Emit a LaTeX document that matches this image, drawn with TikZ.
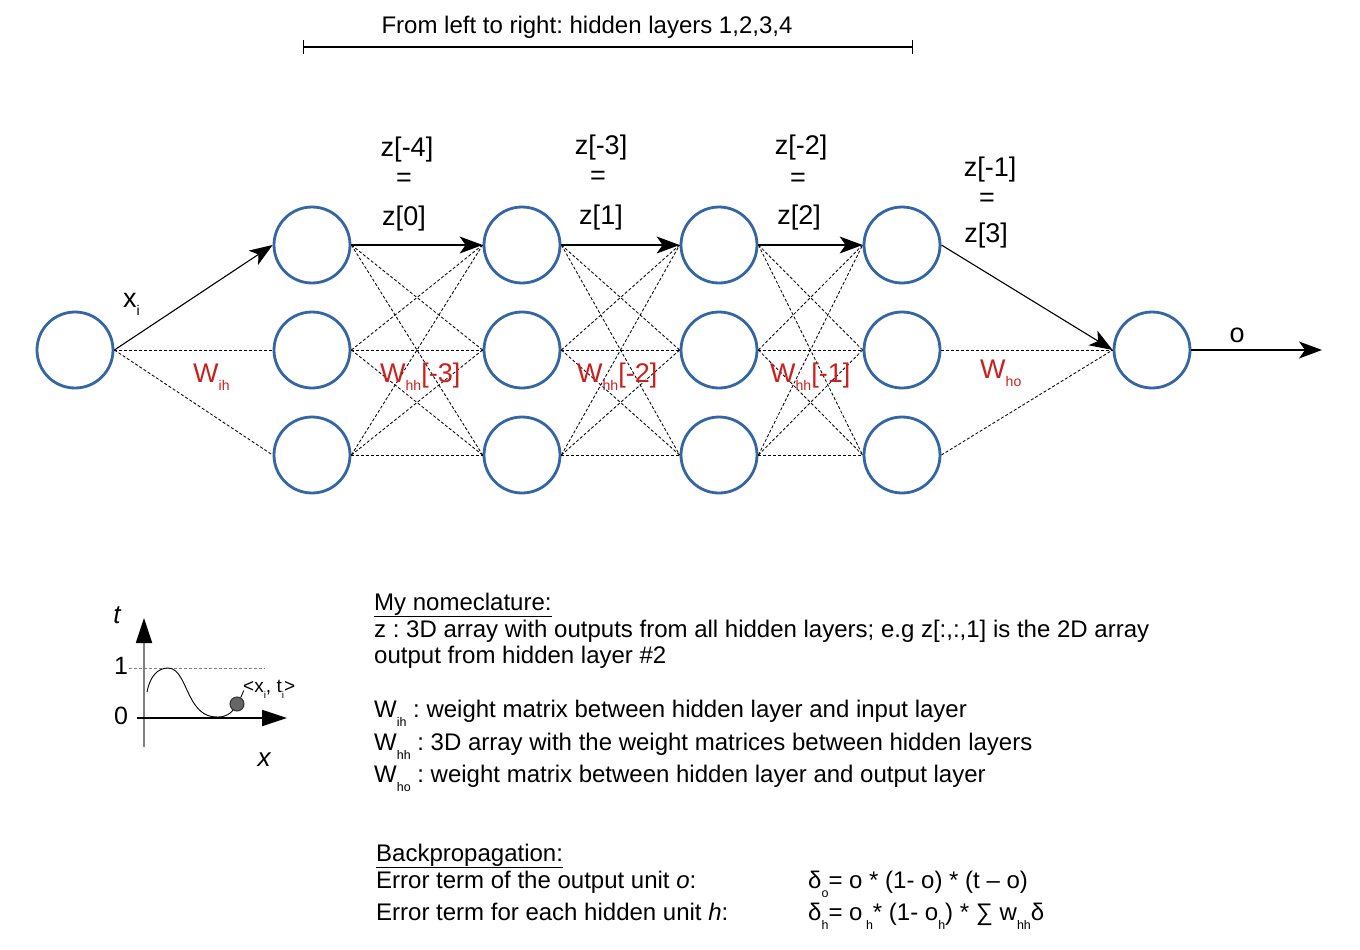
\documentclass[tikz,border=0pt]{standalone}
\usepackage{fontspec}
\setmainfont{Liberation Sans}
\usetikzlibrary{arrows.meta}
\definecolor{nblue}{HTML}{3465A4}
\definecolor{nred}{HTML}{C9211E}
\definecolor{axisgray}{HTML}{808080}
\definecolor{ballfill}{HTML}{666666}
\newcommand{\lsub}[2][0.32em]{\raisebox{-#1}{\scalebox{0.52}{#2}}}
\frenchspacing
\begin{document}
\begin{tikzpicture}[x=1pt,y=-1pt,
  neuron/.style={circle, draw=nblue, line width=2.8pt, minimum size=76pt, inner sep=0pt},
  wdash/.style={line width=0.85pt, dash pattern=on 3pt off 2pt},
  warrow/.style={line width=1.1pt, -{Stealth[length=23pt,width=17pt,inset=6pt]}},
  lbl/.style={font=\fontsize{27}{30}\selectfont, inner sep=0pt},
  redlbl/.style={lbl, text=nred, anchor=base west},
  txt/.style={anchor=base west, inner sep=0pt, font=\fontsize{24}{28}\selectfont},
  axisarrow/.style={line width=1.8pt, -{Triangle[length=25pt,width=16pt,color=black]}}
]
\useasboundingbox[fill=white] (0,0) rectangle (1360,950);

% title and bar
\node[txt, anchor=base] (title) at (587,34) {From left to right: hidden layers 1,2,3,4};
\coordinate (bl) at (303,47);
\coordinate (br) at (913,47);
\draw[line width=1.1pt, {Bar[width=14pt]}-{Bar[width=14pt]}] (bl) -- (br);

% neurons
\node[neuron] (in) at (75,350) {};
\foreach \c/\x in {1/312,2/522,3/719,4/902} {
  \node[neuron] (h\c1) at (\x,245) {};
  \node[neuron] (h\c2) at (\x,350) {};
  \node[neuron] (h\c3) at (\x,455) {};
}
\node[neuron] (out) at (1152,350) {};
\coordinate (oend) at (1322,350);

% input -> layer 1
\draw[warrow] (in.east) -- (h11.west);
\draw[wdash] (in.east) -- (h12.west);
\draw[wdash] (in.east) -- (h13.west);

% hidden -> hidden
\foreach \a/\b in {1/2,2/3,3/4} {
  \foreach \i in {1,2,3} {
    \foreach \j in {1,2,3} {
      \ifnum\i\j=11\relax\else
        \draw[wdash] (h\a\i.east) -- (h\b\j.west);
      \fi
    }
  }
  \draw[warrow] (h\a1.east) -- (h\b1.west);
}

% layer 4 -> output
\draw[warrow] (h41.east) -- (out.west);
\draw[wdash] (h42.east) -- (out.west);
\draw[wdash] (h43.east) -- (out.west);
\draw[warrow] (out.east) -- (oend);

% network labels
\node[lbl, anchor=base west] (xi) at (123,307) {x\lsub{i}};
\node[lbl, anchor=base] (olbl) at (1237,342) {o};

\node[lbl] (z4a) at (407,150) {z[-4]};
\node[lbl] (z4b) at (404,180) {=};
\node[lbl] (z4c) at (404,219) {z[0]};
\node[lbl] (z3a) at (601,148) {z[-3]};
\node[lbl] (z3b) at (598,178) {=};
\node[lbl] (z3c) at (601,218) {z[1]};
\node[lbl] (z2a) at (801,148) {z[-2]};
\node[lbl] (z2b) at (798,180) {=};
\node[lbl] (z2c) at (799,218) {z[2]};
\node[lbl] (z1a) at (990,170) {z[-1]};
\node[lbl] (z1b) at (987,200) {=};
\node[lbl] (z1c) at (986,236) {z[3]};

\node[redlbl] (wih) at (193,382) {W\lsub{ih}};
\node[redlbl] (whh3) at (380,382) {W\lsub{hh}[-3]};
\node[redlbl] (whh2) at (577,382) {W\lsub{hh}[-2]};
\node[redlbl] (whh1) at (770,382) {W\lsub{hh}[-1]};
\node[redlbl] (who) at (980,378) {W\lsub{ho}};

% inset graph
\coordinate (ya0) at (144,747);
\coordinate (ya1) at (144,618);
\coordinate (xa0) at (137,718);
\coordinate (xa1) at (287,718);
\coordinate (d0) at (129,668);
\coordinate (d1) at (265,668);
\draw[axisgray, line width=1pt, dash pattern=on 3pt off 2pt] (d0) -- (d1);
\draw[axisgray, axisarrow] (ya0) -- (ya1);
\draw[black, axisarrow] (xa0) -- (xa1);
\node[lbl, anchor=center, font=\fontsize{26}{28}\selectfont\itshape] (tl) at (117,615) {t};
\node[lbl, anchor=center, font=\fontsize{26}{28}\selectfont\itshape] (xl) at (264,760) {x};
\node[lbl, anchor=center, font=\fontsize{25}{28}\selectfont] (one) at (121,666) {1};
\node[lbl, anchor=center, font=\fontsize{25}{28}\selectfont] (zero) at (121,716) {0};
\node[circle, fill=ballfill, draw=black!80, line width=1pt, minimum size=14pt, inner sep=0pt] (ball) at (237,704) {};
\draw[line width=0.9pt] (147,692) .. controls (150,676) and (158,668) .. (168,668)
  .. controls (180,668) and (184,686) .. (192,700)
  .. controls (200,714) and (208,717) .. (218,717)
  .. controls (226,717) and (231,713) .. (ball);
\node[anchor=base west, inner sep=0pt, font=\fontsize{19}{20}\selectfont] (pt) at (243,692) {<x\lsub{i}, t\lsub{i}>};
\draw[line width=0.9pt] (ball.60) -- ++(3,-7);

% nomenclature
\node[txt] (nom) at (374,610) {\underline{My nomeclature:}};
\node[txt] (n1) at (374,637) {z : 3D array with outputs from all hidden layers; e.g z[:,:,1] is the 2D array};
\node[txt] (n2) at (374,663) {output from hidden layer \#2};
\node[txt] (n3) at (374,717) {W\lsub[0.4em]{ih} : weight matrix between hidden layer and input layer};
\node[txt] (n4) at (374,750) {W\lsub[0.4em]{hh} : 3D array with the weight matrices between hidden layers};
\node[txt] (n5) at (374,782) {W\lsub[0.4em]{ho} : weight matrix between hidden layer and output layer};

% backpropagation
\node[txt] (bp) at (376,861) {\underline{Backpropagation:}};
\node[txt] (bp1) at (376,888) {Error term of the output unit \textit{o}:};
\node[txt] (bp2) at (376,920) {Error term for each hidden unit \textit{h}:};
\node[txt] (f1) at (808,888) {δ\lsub[0.4em]{o}= o * (1- o) * (t – o)};
\node[txt] (f2) at (808,920) {δ\lsub[0.4em]{h}= o\lsub[0.4em]{ h}* (1- o\lsub[0.4em]{h}) * ∑ w\lsub[0.4em]{hh}δ};
\end{tikzpicture}
\end{document}
